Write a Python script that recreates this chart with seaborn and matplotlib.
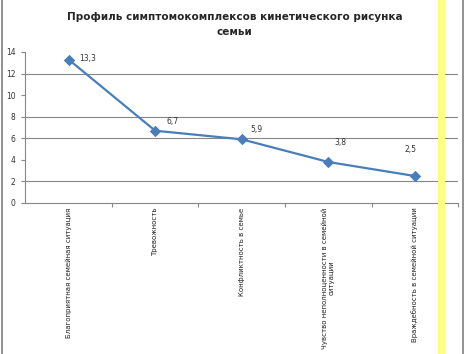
import matplotlib
matplotlib.use("Agg")
import matplotlib.pyplot as plt
import seaborn as sns
from matplotlib.patches import Rectangle
from matplotlib.lines import Line2D

categories = [
    "Благоприятная семейная ситуация",
    "Тревожность",
    "Конфликтность в семье",
    "Чувство неполноценности в семейной\nситуации",
    "Враждебность в семейной ситуации",
]
values = [13.3, 6.7, 5.9, 3.8, 2.5]
value_labels = ["13,3", "6,7", "5,9", "3,8", "2,5"]
y_ticks = [0, 2, 4, 6, 8, 10, 12, 14]
grid_levels = [2, 6, 8, 12]

sns.set_style("white")
plt.rcParams['font.family'] = ['DejaVu Sans']

fig = plt.figure(figsize=(4.69, 3.54), dpi=100)
ax = fig.add_axes([0.054, 0.4266, 0.923, 0.4266])

positions = list(range(len(categories)))
sns.lineplot(x=positions, y=values, ax=ax, color="#4A7EBB", linewidth=1.6,
             marker="D", markersize=5, markeredgecolor="#4A7EBB")

for lvl in grid_levels:
    ax.axhline(lvl, color="#868686", linewidth=0.8, zorder=0)

ax.set_xlim(-0.5, len(categories) - 0.5)
ax.set_ylim(0, 14)
ax.set_yticks(y_ticks)
ax.set_yticklabels([str(t) for t in y_ticks], fontsize=5.5, color="#333333")
ax.set_xticks([p + 0.5 for p in positions])
ax.set_xticklabels([])
ax.tick_params(axis="y", length=3, color="#868686", pad=4)
ax.tick_params(axis="x", length=3, color="#868686", direction="out")
ax.tick_params(axis="both", which="both", bottom=True, left=True)

for side in ["top", "right"]:
    ax.spines[side].set_visible(False)
ax.spines["left"].set_color("#868686")
ax.spines["bottom"].set_color("#868686")
ax.spines["left"].set_linewidth(0.8)
ax.spines["bottom"].set_linewidth(0.8)

# data labels, offsets in pixels as placed in the original
label_offsets = [(19, 1), (17, 9), (15, 10), (12, 19), (-4, 27)]
for p, v, lab, off in zip(positions, values, value_labels, label_offsets):
    ax.annotate(lab, (p, v), xytext=off, textcoords="offset pixels",
                ha="center", va="center", fontsize=5.5, color="#333333")

# category labels, rotated
for p, cat in zip(positions, categories):
    ax.text(p, -0.4, cat, rotation=90, ha="center", va="top",
            fontsize=5, color="#222222", transform=ax.transData,
            multialignment="center")

fig.text(0.5, 0.931, "Профиль симптомокомплексов кинетического рисунка\nсемьи",
         ha="center", va="center", fontsize=7.5, fontweight="bold",
         linespacing=1.6)

# frame and yellow band
fig.add_artist(Line2D([0.005, 0.005], [0, 1], color="#7f7f7f", linewidth=1.2))
fig.add_artist(Line2D([0.987, 0.987], [0, 1], color="#7f7f7f", linewidth=1.2))
fig.add_artist(Rectangle((0.934, 0), 0.014, 1, transform=fig.transFigure,
                         facecolor="#FFFF80", edgecolor="none", zorder=5))

fig.savefig("out.png", dpi=100)
